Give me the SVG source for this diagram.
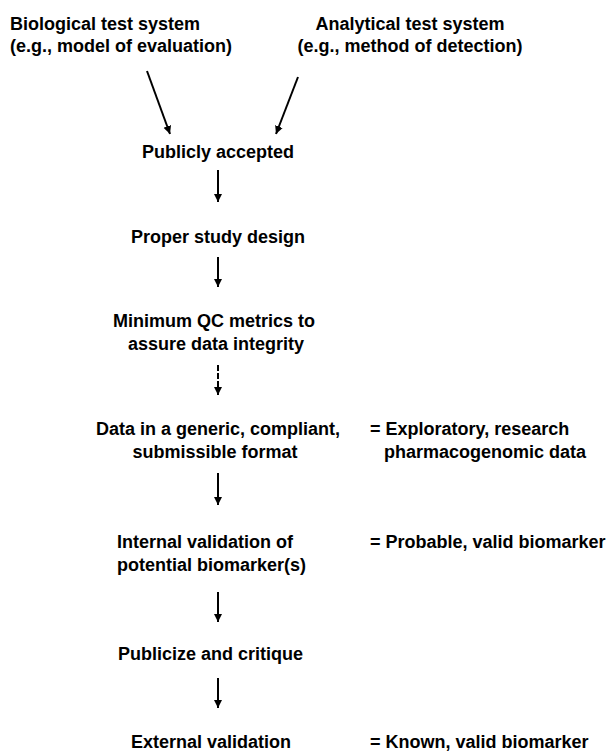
<svg xmlns="http://www.w3.org/2000/svg" width="614" height="751" viewBox="0 0 614 751">
<style>
text{font-family:"Liberation Sans",Arial,Helvetica,sans-serif;font-weight:bold;font-size:18px;fill:#000}
.c{stroke:#000;stroke-width:2;fill:none}
.d{stroke-dasharray:6,2}
</style>
<defs>
<marker id="ah" viewBox="0 0 8 10" refX="8" refY="5" markerWidth="8" markerHeight="10" markerUnits="userSpaceOnUse" orient="auto">
<path d="M0,1 L8,5 L0,9 Z" fill="#000"/>
</marker>
</defs>
<rect width="614" height="751" fill="#fff"/>
<g id="connectors">
<line class="c" x1="147" y1="71" x2="170" y2="134" marker-end="url(#ah)"/>
<line class="c" x1="298" y1="77" x2="276" y2="134" marker-end="url(#ah)"/>
<line class="c" x1="218" y1="170" x2="218" y2="202" marker-end="url(#ah)"/>
<line class="c" x1="218" y1="257" x2="218" y2="287" marker-end="url(#ah)"/>
<line class="c d" x1="218" y1="365" x2="218" y2="395" marker-end="url(#ah)"/>
<line class="c" x1="218" y1="473" x2="218" y2="505" marker-end="url(#ah)"/>
<line class="c" x1="218" y1="592" x2="218" y2="622" marker-end="url(#ah)"/>
<line class="c" x1="218" y1="678" x2="218" y2="708" marker-end="url(#ah)"/>
</g>
<g id="bio"><text x="10" y="30">Biological test system</text><text x="10" y="52">(e.g., model of evaluation)</text></g>
<g id="analytical"><text x="410" y="30" text-anchor="middle">Analytical test system</text><text x="410" y="52" text-anchor="middle">(e.g., method of detection)</text></g>
<g id="public"><text x="218" y="158" text-anchor="middle">Publicly accepted</text></g>
<g id="design"><text x="218" y="243" text-anchor="middle">Proper study design</text></g>
<g id="qc"><text x="214" y="327" text-anchor="middle">Minimum QC metrics to</text><text x="216" y="350" text-anchor="middle">assure data integrity</text></g>
<g id="data"><text x="218" y="435" text-anchor="middle">Data in a generic, compliant,</text><text x="215" y="458" text-anchor="middle">submissible format</text></g>
<g id="exploratory"><text x="370" y="435">= Exploratory, research</text><text x="384" y="458">pharmacogenomic data</text></g>
<g id="internal"><text x="117" y="548">Internal validation of</text><text x="117" y="571">potential biomarker(s)</text></g>
<g id="probable"><text x="370" y="548">= Probable, valid biomarker</text></g>
<g id="publicize"><text x="118" y="660">Publicize and critique</text></g>
<g id="external"><text x="131" y="748">External validation</text></g>
<g id="known"><text x="370" y="748">= Known, valid biomarker</text></g>
</svg>
